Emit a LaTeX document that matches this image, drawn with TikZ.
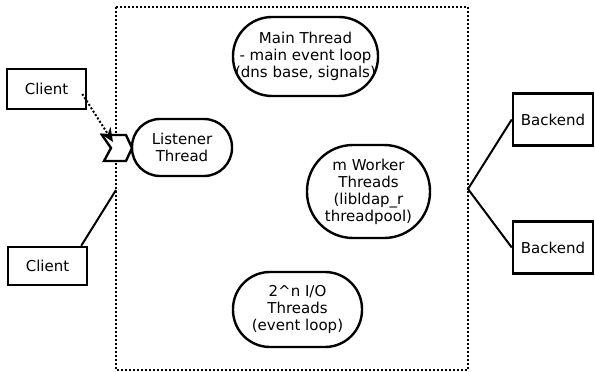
\documentclass[tikz,border=0pt]{standalone}
\usepackage{fontspec}
\setmainfont{DejaVu Sans}
\usetikzlibrary{arrows.meta}
\begin{document}
\begin{tikzpicture}[x=1pt,y=-1pt,
  every node/.style={font=\fontsize{15}{17}\selectfont},
  box/.style={draw,line width=2.5pt,minimum width=79pt,minimum height=#1,inner sep=0pt},
  thr/.style={draw,line width=2.4pt,rounded corners=#1,inner sep=0pt,align=center,fill=white},
  link/.style={line width=2pt},
  dots/.style={line width=2pt,dash pattern=on 2pt off 2pt}]
\useasboundingbox (0,0) rectangle (595,372);
\draw[dots] (116,7) rectangle (468,370);
% clients and backends
\node[box=40pt] (c1) at (46.5,89) {Client};
\node[box=38pt] (c2) at (47.5,266) {Client};
\node[box=52pt,minimum width=80pt] (b1) at (553,119.5) {Backend};
\node[box=52pt,minimum width=80pt] (b2) at (553,247.5) {Backend};
% threads
\node[thr=28pt,minimum width=100pt,minimum height=57pt] (lt) at (182,147.5) {Listener\\Thread};
\node[thr=39pt,minimum width=145pt,minimum height=79pt] (mt) at (305.5,56.5) {Main Thread\\- main event loop\\(dns base, signals)};
\node[thr=46pt,minimum width=123pt,minimum height=93pt] (wt) at (368.5,191.5) {m Worker\\Threads\\(libldap\_r\\threadpool)};
\node[thr=37pt,minimum width=129pt,minimum height=75pt] (io) at (297.5,309.5) {2\^{}n I/O\\Threads\\(event loop)};
% listener port chevron
\draw[line width=2.4pt,fill=white,line join=miter]
  (102,135) -- (126,135) -- (132,148) -- (126,161) -- (104,161) -- (111,148) -- cycle;
\coordinate (port) at (113,142);
\draw[dots,-{Stealth[length=14pt,width=12pt]}] ([shift={(-5,5)}]c1.east) -- (port);
% connectors
\coordinate (j1) at (116,190);
\draw[link] ([xshift=-7pt]c2.north east) -- (j1);
\coordinate (j2) at (468,189);
\draw[link] (b1.west) -- (j2) -- (b2.west);
\end{tikzpicture}
\end{document}
